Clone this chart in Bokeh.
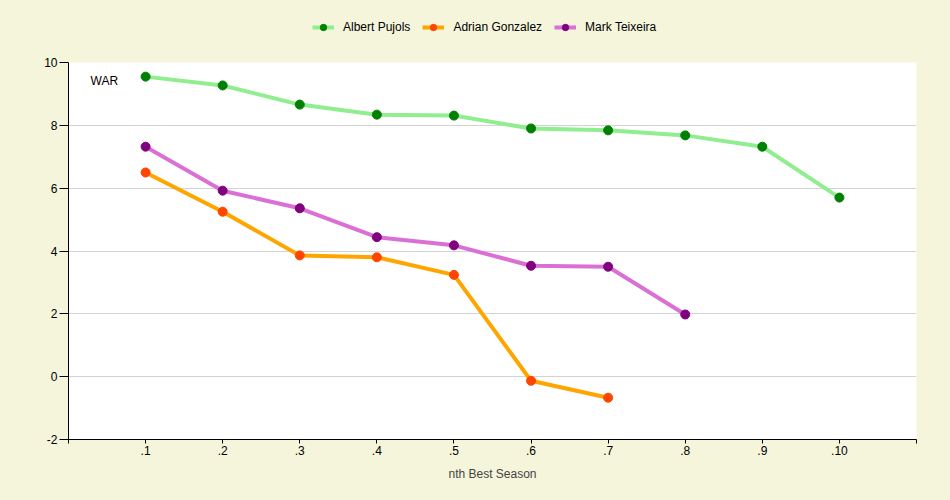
from bokeh.plotting import figure
from bokeh.layouts import column
from bokeh.models import FixedTicker, Legend, LegendItem, Label, ColumnDataSource
from bokeh.embed import file_html
from bokeh.resources import INLINE

seasons = [1, 2, 3, 4, 5, 6, 7, 8, 9, 10]
tick_labels = [".1", ".2", ".3", ".4", ".5", ".6", ".7", ".8", ".9", ".10"]
pujols = [9.55, 9.27, 8.66, 8.34, 8.31, 7.90, 7.84, 7.68, 7.32, 5.70]
gonzalez = [6.50, 5.25, 3.86, 3.80, 3.24, -0.13, -0.67]
teixeira = [7.32, 5.92, 5.36, 4.44, 4.18, 3.53, 3.50, 1.98]

BG = "#F5F5DC"
FONT = "Liberation Sans"
TOP_H = 54

# legend strip
lg = figure(width=950, height=TOP_H, output_backend="svg", toolbar_location=None,
            x_axis_type=None, y_axis_type=None, x_range=(0, 1), y_range=(0, 1),
            min_border=0)
lg.background_fill_color = BG
lg.border_fill_color = BG
lg.outline_line_color = None
lg.xgrid.visible = False
lg.ygrid.visible = False

# main chart
p = figure(width=950, height=500 - TOP_H, output_backend="svg", toolbar_location=None,
           x_range=(0, 11), y_range=(-2, 10),
           min_border_left=68, min_border_right=34, min_border_top=62 - TOP_H,
           min_border_bottom=61)
p.background_fill_color = "white"
p.border_fill_color = BG
p.outline_line_color = None

p.xaxis.ticker = FixedTicker(ticks=list(range(0, 12)))
overrides = {0: "", 11: ""}
for s, lab in zip(seasons, tick_labels):
    overrides[s] = lab
p.xaxis.major_label_overrides = overrides
p.yaxis.ticker = FixedTicker(ticks=[-2, 0, 2, 4, 6, 8, 10])
p.yaxis.major_label_overrides = {-2: "-2", 0: "0", 2: "2", 4: "4", 6: "6", 8: "8", 10: "10"}
for ax in (p.xaxis[0], p.yaxis[0]):
    ax.axis_line_color = "black"
    ax.major_tick_line_color = "black"
    ax.minor_tick_line_color = None
    ax.major_tick_in = 0
    ax.major_label_text_font = FONT
    ax.major_label_text_font_size = "12px"
    ax.major_label_text_color = "black"
p.xaxis.major_tick_out = 4
p.yaxis.major_tick_out = 9
p.xaxis.major_label_standoff = 2
p.yaxis.major_label_standoff = 2
p.xaxis.axis_label = "nth Best Season"
p.xaxis.axis_label_text_font = FONT
p.xaxis.axis_label_text_font_size = "12px"
p.xaxis.axis_label_text_font_style = "normal"
p.xaxis.axis_label_standoff = 9
p.xgrid.grid_line_color = None
p.ygrid.grid_line_color = "#D3D3D3"
p.ygrid.ticker = FixedTicker(ticks=[0, 2, 4, 6, 8, 10])

series = [
    ("Albert Pujols", pujols, "#90EE90", "#008000"),
    ("Adrian Gonzalez", gonzalez, "#FFA500", "#FF4500"),
    ("Mark Teixeira", teixeira, "#DA70D6", "#800080"),
]
items = []
for name, vals, lc, mc in series:
    src = ColumnDataSource(dict(x=seasons[:len(vals)], y=vals))
    p.line("x", "y", source=src, line_color=lc, line_width=4)
    p.scatter("x", "y", source=src, size=9, fill_color=mc, line_color=mc)
    # off-screen twins in the legend strip, used only for the legend swatches
    far = ColumnDataSource(dict(x=[-5, -4], y=[-5, -5]))
    l1 = lg.line("x", "y", source=far, line_color=lc, line_width=4)
    l2 = lg.scatter("x", "y", source=far, size=7, fill_color=mc, line_color=mc)
    items.append(LegendItem(label=name, renderers=[l1, l2]))

legend = Legend(items=items, orientation="horizontal", location=(244, 19),
                background_fill_alpha=0, border_line_color=None,
                label_text_font=FONT, label_text_font_size="12px",
                label_text_color="black",
                glyph_width=22, glyph_height=16, spacing=12, padding=4, margin=0,
                label_standoff=9)
lg.add_layout(legend, "center")

p.add_layout(Label(x=22, y=352, x_units="screen", y_units="screen", text="WAR",
                   text_font=FONT, text_font_size="12px", text_color="black"))

layout = column(lg, p, spacing=0, styles={"background-color": BG})
open("out.html", "w").write(file_html(layout, INLINE))
